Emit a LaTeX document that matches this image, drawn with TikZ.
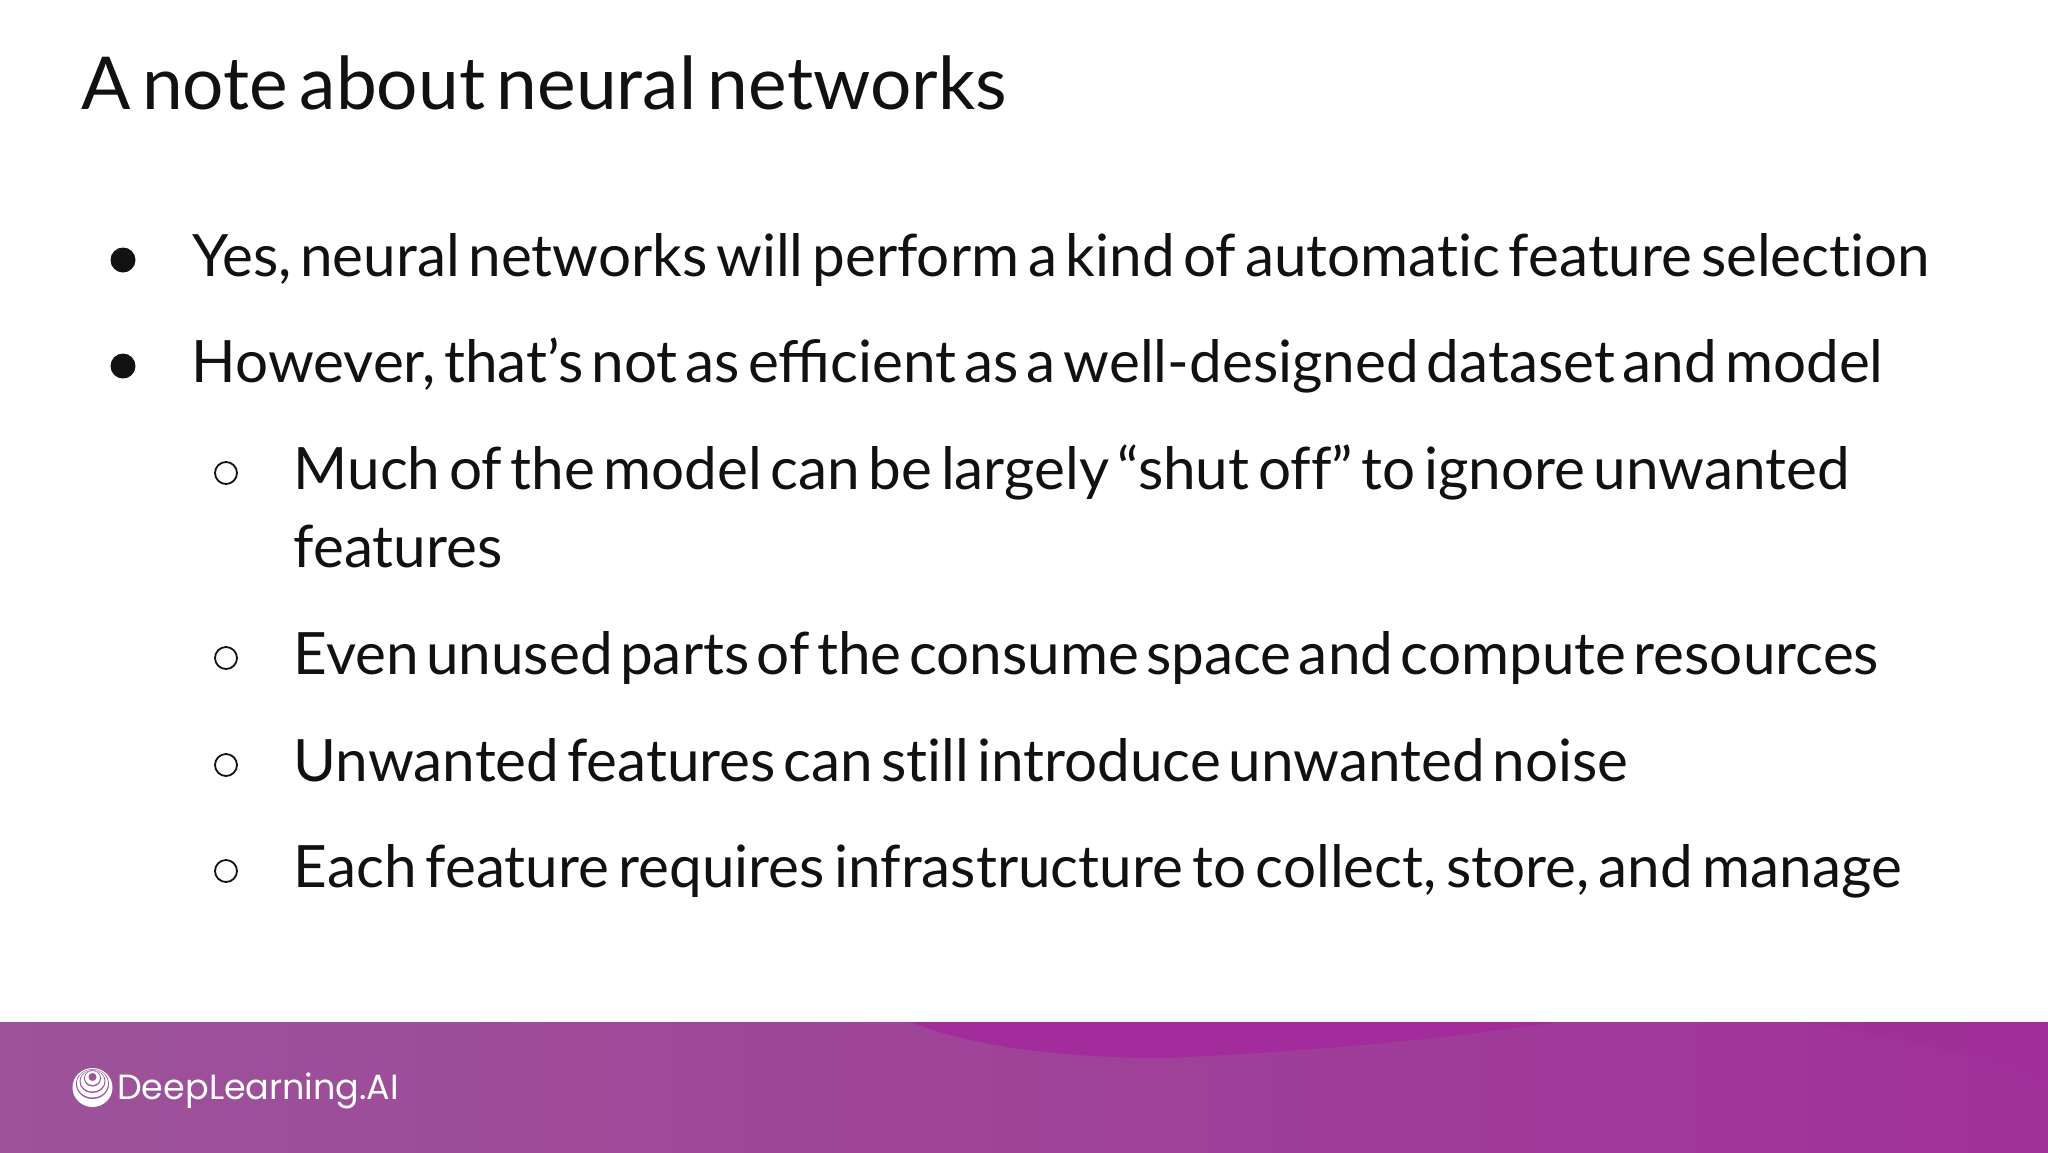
\documentclass[tikz,border=0pt]{standalone}
\usepackage{fontspec}
\setmainfont{Lato}[WordSpace=0.62]
\newfontfamily\logofont{Poppins}
\definecolor{bandL}{HTML}{9C5399}
\definecolor{bandM}{HTML}{9F4399}
\definecolor{bandR}{HTML}{A0309A}
\definecolor{blob}{HTML}{A32C9C}
\definecolor{ink}{HTML}{111111}
\newcommand{\wsp}[1]{\spaceskip=#1pt\relax}
\tikzset{
  x=1pt,y=-1pt,
  titletext/.style={anchor=base west,inner sep=0pt,text=ink,font=\fontsize{73}{84}\selectfont},
  bodytext/.style={anchor=base west,inner sep=0pt,text=ink,font=\fontsize{58.4}{67}\selectfont},
  bulletfull/.style={circle,fill=ink,inner sep=0pt,minimum size=25pt},
  bulletopen/.style={circle,draw=ink,line width=1.8pt,fill=white,inner sep=0pt,minimum size=22pt},
}
\begin{document}
\begin{tikzpicture}
\useasboundingbox (0,0) rectangle (2048,1152);
\fill[white] (0,0) rectangle (2048,1152);
% band
\shade[left color=bandL,right color=bandR,middle color=bandM] (0,1022) rectangle (2048,1152);
\fill[blob] (911,1022) .. controls (980,1050) and (1080,1058) .. (1166,1058) .. controls (1300,1052) and (1440,1040) .. (1556,1022) -- cycle;
\fill[blob,opacity=.45] (1795,1022) .. controls (1900,1035) and (1990,1060) .. (2048,1085) -- (2048,1022) -- cycle;
% logo
\fill[white] (92.5,1087.5) ellipse [x radius=20,y radius=19.5];
\fill[bandL] (92.5,1084) ellipse [x radius=16.5,y radius=15];
\fill[white] (92.5,1083.5) ellipse [x radius=15.5,y radius=14];
\fill[bandL] (92.5,1081.5) ellipse [x radius=13,y radius=11.5];
\fill[white] (92.5,1081) ellipse [x radius=12,y radius=10.5];
\fill[bandL] (92.5,1078.5) ellipse [x radius=8.5,y radius=8];
\fill[white] (92.5,1078) ellipse [x radius=7.5,y radius=7];
\fill[bandL] (92.5,1077) circle (4);
\node[anchor=base west,inner sep=0pt,text=white,font=\logofont\fontsize{35}{42}\selectfont] (logo) at (117,1099) {DeepLearning.AI};
% text
\node[titletext] (title) at (81,109) {A note about neural networks};
\node[bulletfull] (b1) at (123,260) {};
\node[bodytext] (t1) at (192,276) {\wsp{8.7}Yes, neural networks will perform a kind of automat\kern0pt ic feature select\kern0pt ion};
\node[bulletfull] (b2) at (123,366) {};
\node[bodytext] (t2) at (191.5,382) {\wsp{8}However, that’s not as efficient as a well-designed dataset and model};
\node[bulletopen] (b3) at (226,473) {};
\node[bodytext] (t3) at (293.5,489) {\wsp{8.6}Much of the model can be largely “shut of\kern0pt f” to ignore unwanted};
\node[bodytext] (t3b) at (293.5,567) {features};
\node[bulletopen] (b4) at (226,658) {};
\node[bodytext] (t4) at (293.5,674) {\wsp{7.4}Even unused parts of the consume space and compute resources};
\node[bulletopen] (b5) at (226,765) {};
\node[bodytext] (t5) at (293.5,781) {\wsp{7.9}Unwanted features can st\kern0pt ill introduce unwanted noise};
\node[bulletopen] (b6) at (226,871) {};
\node[bodytext] (t6) at (293.5,887.5) {\wsp{9.3}Each feature requires infrastructure to collect, store, and manage};
\end{tikzpicture}
\end{document}
